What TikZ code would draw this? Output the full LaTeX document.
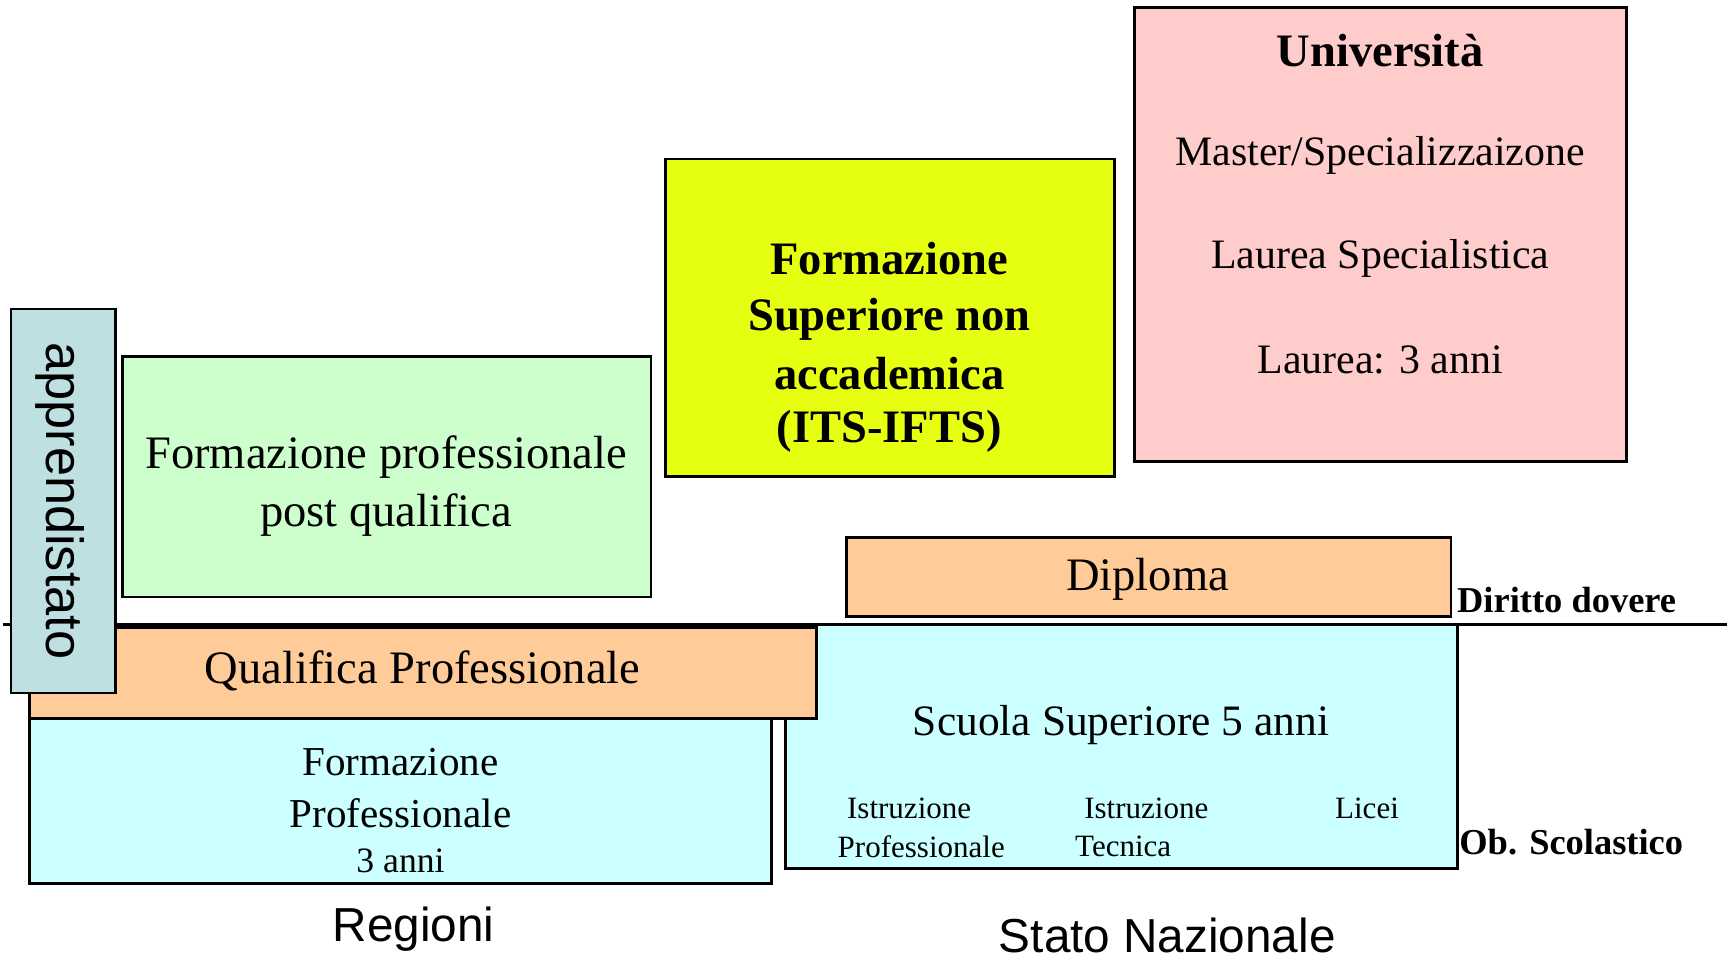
\documentclass[tikz,border=0pt]{standalone}
\usepackage{fontspec}
\setmainfont{Liberation Serif}
\setsansfont{Liberation Sans}

\definecolor{apprblue}{RGB}{190,224,227}
\definecolor{postgreen}{RGB}{204,255,204}
\definecolor{itsyellow}{RGB}{230,255,17}
\definecolor{unipink}{RGB}{255,204,204}
\definecolor{boxorange}{RGB}{255,204,153}
\definecolor{boxcyan}{RGB}{204,255,255}

\tikzset{
    box/.style={draw=black, line width=0.7pt, inner sep=0pt},
    txt/.style={inner sep=0pt, font=\fontsize{12}{14}\selectfont},
    smalltxt/.style={inner sep=0pt, font=\fontsize{8}{9.6}\selectfont},
    sidetxt/.style={inner sep=0pt, anchor=west, font=\fontsize{9.4}{11}\selectfont\bfseries},
    sanstxt/.style={inner sep=0pt, font=\fontsize{12.3}{14}\selectfont\sffamily}
}

\begin{document}
\begin{tikzpicture}

    \useasboundingbox (0, 0) rectangle (15.68, -8.72);

    \coordinate (lineL) at (0.03, -5.66);
    \coordinate (lineR) at (15.65, -5.66);
    \draw[line width=0.7pt] (lineL) -- (lineR);

    \node[box, fill=unipink, minimum width=4.46cm, minimum height=4.11cm] (uni) at (12.51, -2.125) {};
    \node[txt, font=\fontsize{12}{14}\selectfont\bfseries] (uniT) at (12.51, -0.46) {Università};
    \node[txt, font=\fontsize{10.8}{13}\selectfont] (master) at (12.51, -1.41) {Master/Specializzaizone};
    \node[txt, font=\fontsize{10.8}{13}\selectfont] (lspec) at (12.51, -2.34) {Laurea Specialistica};
    \node[txt, font=\fontsize{10.8}{13}\selectfont] (laurea) at (12.51, -3.26) {Laurea: 3 anni};

    \node[box, fill=itsyellow, minimum width=4.07cm, minimum height=2.88cm] (its) at (8.065, -2.88) {};
    \node[txt, font=\fontsize{12}{14}\selectfont\bfseries] (its1) at (8.06, -2.34) {Formazione};
    \node[txt, font=\fontsize{12}{14}\selectfont\bfseries] (its2) at (8.06, -2.89) {Superiore non};
    \node[txt, font=\fontsize{12}{14}\selectfont\bfseries] (its3) at (8.06, -3.39) {accademica};
    \node[txt, font=\fontsize{12}{14}\selectfont\bfseries] (its4) at (8.06, -3.91) {(ITS-IFTS)};

    \node[box, fill=postgreen, minimum width=4.79cm, minimum height=2.18cm] (postq) at (3.505, -4.32) {};
    \node[txt] (postq1) at (3.50, -4.14) {Formazione professionale};
    \node[txt] (postq2) at (3.50, -4.67) {post qualifica};

    \node[box, fill=boxorange, minimum width=5.48cm, minimum height=0.72cm] (dipl) at (10.41, -5.23) {};
    \node[txt] (diplT) at (10.40, -5.25) {Diploma};

    \node[box, fill=boxcyan, minimum width=6.72cm, minimum height=1.50cm] (fp) at (3.63, -7.26) {};
    \node[txt, font=\fontsize{10.6}{12}\selectfont] (fp1) at (3.63, -6.91) {Formazione};
    \node[txt, font=\fontsize{10.6}{12}\selectfont] (fp2) at (3.63, -7.37) {Professionale};
    \node[txt, font=\fontsize{9.2}{11}\selectfont] (fp3) at (3.63, -7.80) {3 anni};

    \node[box, fill=boxcyan, minimum width=6.09cm, minimum height=2.21cm] (scuola) at (10.165, -6.765) {};
    \node[txt, font=\fontsize{11.2}{13}\selectfont] (scuolaT) at (10.16, -6.57) {Scuola Superiore 5 anni};
    \node[smalltxt] (ip1) at (8.24, -7.33) {Istruzione};
    \node[smalltxt] (ip2) at (8.35, -7.67) {Professionale};
    \node[smalltxt] (it1) at (10.39, -7.33) {Istruzione};
    \node[smalltxt] (it2) at (10.18, -7.67) {Tecnica};
    \node[smalltxt] (licei) at (12.39, -7.33) {Licei};

    \node[box, fill=boxorange, minimum width=7.13cm, minimum height=0.82cm] (qual) at (3.835, -6.10) {};
    \node[txt] (qualT) at (3.83, -6.08) {Qualifica Professionale};

    \node[box, fill=apprblue, minimum width=0.95cm, minimum height=3.48cm] (appr) at (0.575, -4.54) {};
    \node[inner sep=0pt, rotate=-90, font=\fontsize{13.5}{15}\selectfont\sffamily] (apprT) at (0.54, -4.54) {apprendistato};

    \node[sidetxt] (diritto) at (13.20, -5.44) {Diritto dovere};
    \node[sidetxt] (obsc) at (13.22, -7.63) {Ob. Scolastico};

    \node[sanstxt] (regioni) at (3.75, -8.42) {Regioni};
    \node[sanstxt] (stato) at (10.58, -8.48) {Stato Nazionale};

\end{tikzpicture}
\end{document}
